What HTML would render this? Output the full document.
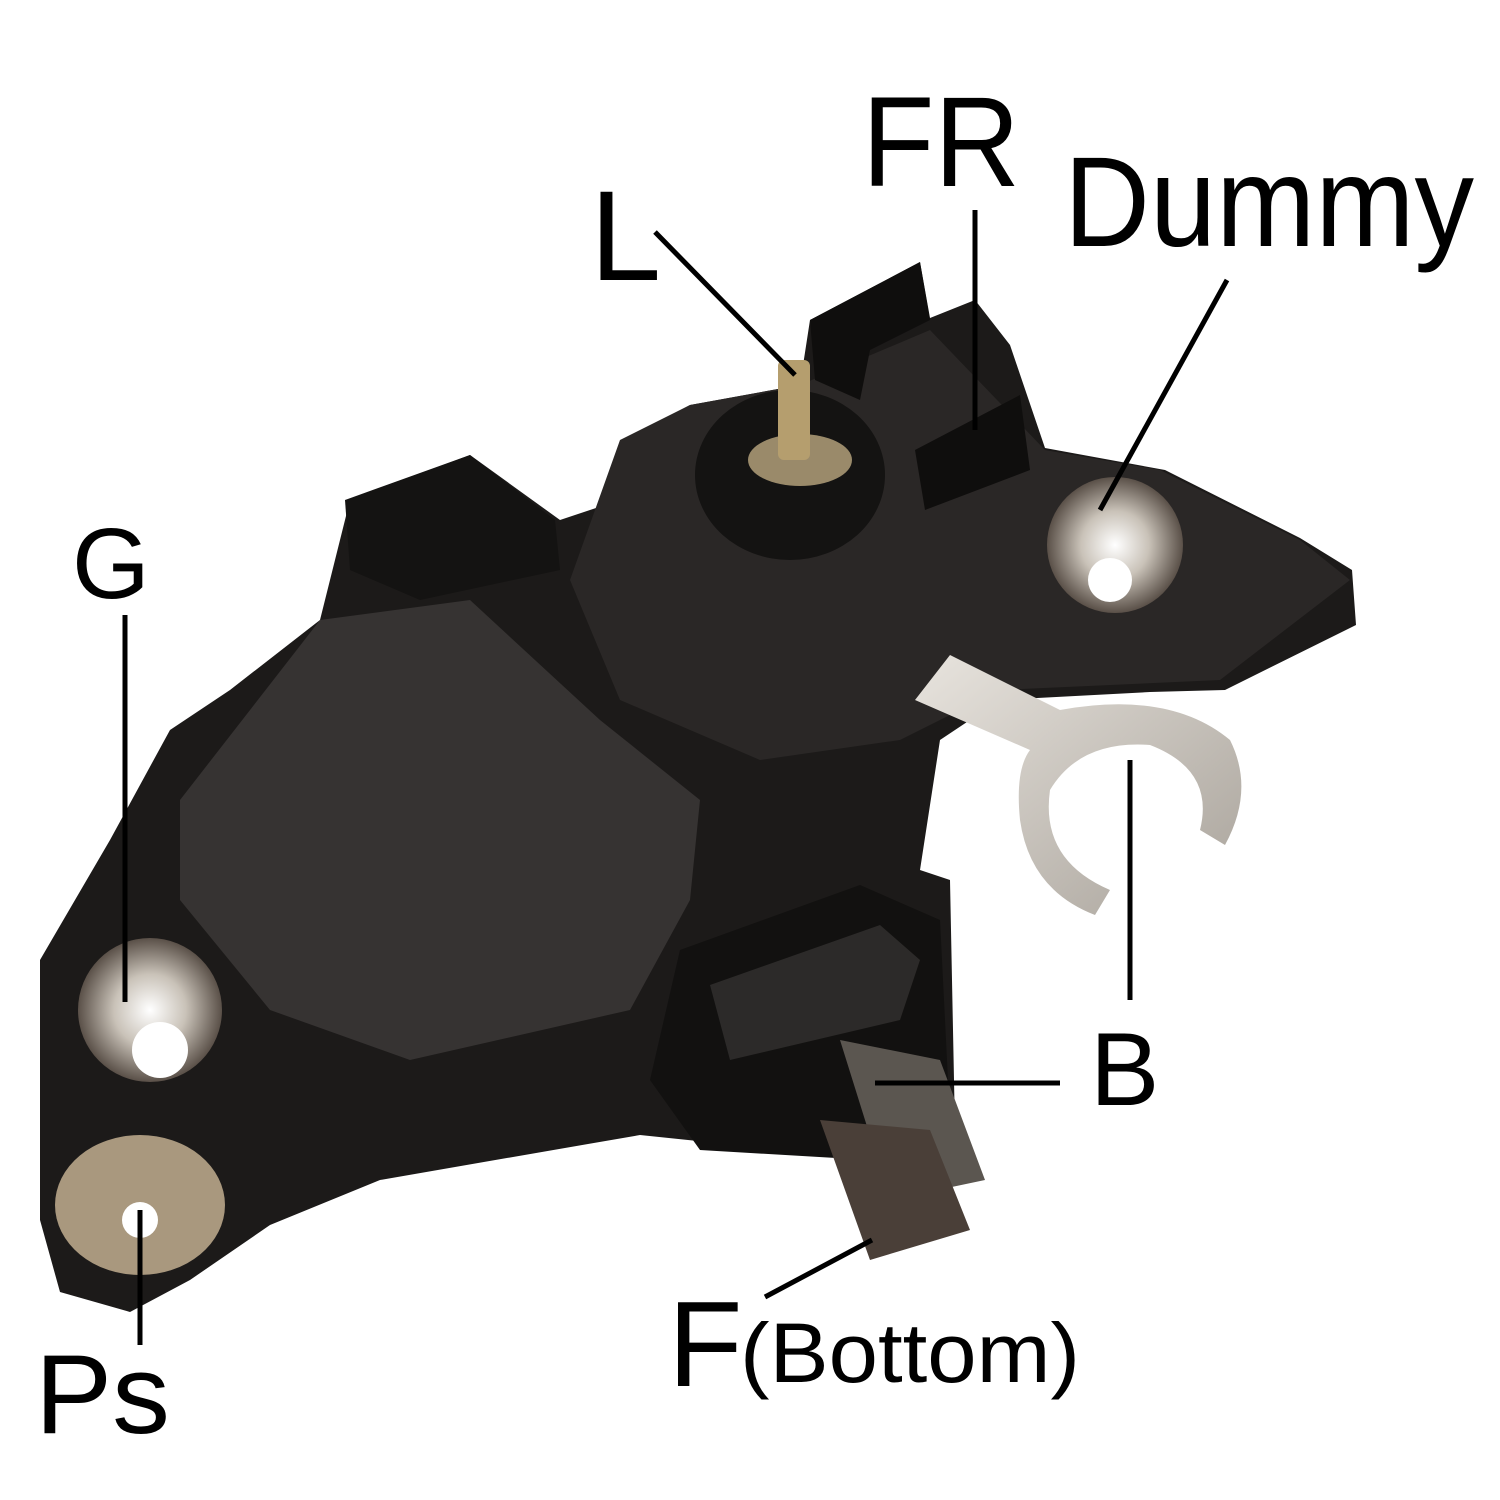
<!DOCTYPE html>
<html><head><meta charset="utf-8"><style>
html,body{margin:0;padding:0;background:#fff;}
svg{display:block}
text{font-family:"Liberation Sans",sans-serif;fill:#000}
</style></head><body>
<svg width="1500" height="1500" viewBox="0 0 1500 1500">
<defs>
<radialGradient id="met" cx="50%" cy="50%" r="50%"><stop offset="0" stop-color="#fff"/><stop offset="0.5" stop-color="#c9c2b8"/><stop offset="1" stop-color="#5a5048"/></radialGradient>
<linearGradient id="tab" x1="0" y1="0" x2="1" y2="1"><stop offset="0" stop-color="#e8e4de"/><stop offset="1" stop-color="#a8a29a"/></linearGradient>
</defs>
<path d="M40,960 L110,840 L170,730 L230,690 L320,620 L350,500 L470,455 L560,520 L620,500 L625,440 L690,405 L800,385 L810,320 L920,262 L930,318 L975,300 L1010,345 L1045,448 L1165,470 L1300,538 L1352,570 L1356,625 L1225,690 L1150,692 L1000,700 L940,740 L920,870 L950,880 L955,1130 L880,1160 L640,1135 L380,1180 L270,1225 L190,1280 L130,1312 L60,1292 L40,1220 Z" fill="#1c1a19"/>
<path d="M180,800 L320,620 L470,600 L600,720 L700,800 L690,900 L630,1010 L410,1060 L270,1010 L180,900 Z" fill="#363332"/>
<path d="M620,440 L690,405 L800,385 L930,330 L1045,450 L1160,470 L1300,540 L1350,580 L1220,680 L1000,690 L900,740 L760,760 L620,700 L570,580 Z" fill="#2a2726"/>
<path d="M345,500 L470,455 L555,520 L560,570 L420,600 L350,570 Z" fill="#141312"/>
<ellipse cx="790" cy="475" rx="95" ry="85" fill="#141312"/>
<ellipse cx="800" cy="460" rx="52" ry="26" fill="#9a8a6a"/>
<rect x="778" y="360" width="32" height="100" rx="6" fill="#b59e6e"/>
<path d="M810,320 L920,262 L930,320 L870,350 L860,400 L815,380 Z" fill="#0f0e0d"/>
<path d="M915,450 L1020,395 L1030,470 L925,510 Z" fill="#0f0e0d"/>
<circle cx="1115" cy="545" r="68" fill="url(#met)"/>
<circle cx="1110" cy="580" r="22" fill="#fff"/>
<path d="M915,700 L950,655 L1060,710 Q1170,690 1230,740 Q1255,790 1225,845 L1200,830 Q1215,770 1150,745 Q1080,740 1050,790 Q1040,860 1110,890 L1095,915 Q1030,890 1020,820 Q1015,770 1030,750 Z" fill="url(#tab)"/>
<circle cx="150" cy="1010" r="72" fill="url(#met)"/>
<circle cx="160" cy="1050" r="28" fill="#fff"/>
<ellipse cx="140" cy="1205" rx="85" ry="70" fill="#a9987e"/>
<circle cx="140" cy="1220" r="18" fill="#fff"/>
<path d="M680,950 L860,885 L940,920 L950,1120 L870,1160 L700,1150 L650,1080 Z" fill="#121110"/>
<path d="M710,985 L880,925 L920,960 L900,1020 L730,1060 Z" fill="#2c2a29"/>
<path d="M840,1040 L940,1060 L985,1180 L890,1200 Z" fill="#5b5650"/>
<path d="M820,1120 L930,1130 L970,1230 L870,1260 Z" fill="#4a3f38"/>
<g stroke="#000" stroke-width="5" fill="none">
<line x1="655" y1="232" x2="795" y2="375"/>
<line x1="975" y1="210" x2="975" y2="430"/>
<line x1="1227" y1="280" x2="1100" y2="510"/>
<line x1="125" y1="615" x2="125" y2="1002"/>
<line x1="1130" y1="760" x2="1130" y2="1000"/>
<line x1="875" y1="1083" x2="1060" y2="1083"/>
<line x1="765" y1="1297" x2="872" y2="1240"/>
<line x1="140" y1="1210" x2="140" y2="1345"/>
</g>
<g>
<text x="862" y="186" font-size="128" textLength="158" lengthAdjust="spacingAndGlyphs">FR</text>
<text x="1064" y="246" font-size="128" textLength="410" lengthAdjust="spacingAndGlyphs">Dummy</text>
<text x="590" y="280" font-size="128">L</text>
<text x="72" y="598" font-size="100">G</text>
<text x="1090" y="1105" font-size="104">B</text>
<text x="668" y="1386" font-size="122">F</text>
<text x="740" y="1382" font-size="84" textLength="340" lengthAdjust="spacingAndGlyphs">(Bottom)</text>
<text x="35" y="1433" font-size="112" textLength="135" lengthAdjust="spacingAndGlyphs">Ps</text>
</g>
</svg>
</body></html>
